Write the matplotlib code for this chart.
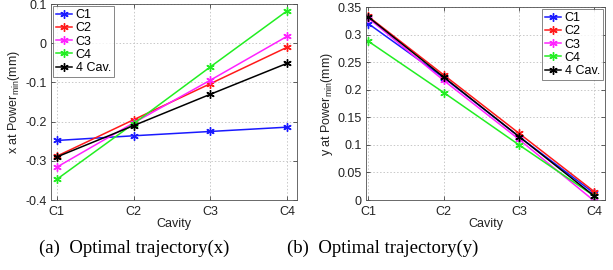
import matplotlib
matplotlib.use("Agg")
import matplotlib.pyplot as plt

cavities = ["C1", "C2", "C3", "C4"]
series_names = ["C1", "C2", "C3", "C4", "4 Cav."]
colors = ["#1a1aff", "#ff1a1a", "#ff22ff", "#22ee22", "#000000"]

x_C1 = [-0.248, -0.236, -0.225, -0.214]
x_C2 = [-0.288, -0.195, -0.103, -0.010]
x_C3 = [-0.316, -0.203, -0.094, 0.018]
x_C4 = [-0.347, -0.205, -0.060, 0.083]
x_4cav = [-0.290, -0.210, -0.130, -0.051]

y_C1 = [0.320, 0.222, 0.115, 0.012]
y_C2 = [0.333, 0.227, 0.121, 0.015]
y_C3 = [0.330, 0.217, 0.110, -0.002]
y_C4 = [0.288, 0.195, 0.100, 0.007]
y_4cav = [0.332, 0.223, 0.115, 0.007]

x_ticks = [0.1, 0, -0.1, -0.2, -0.3, -0.4]
y_ticks = [0, 0.05, 0.1, 0.15, 0.2, 0.25, 0.3, 0.35]

plt.rcParams['font.family'] = ['Liberation Sans', 'DejaVu Sans']
plt.rcParams['mathtext.fontset'] = 'custom'
plt.rcParams['mathtext.rm'] = 'Liberation Sans'
plt.rcParams['mathtext.it'] = 'Liberation Sans'

fig = plt.figure(figsize=(6.13, 2.70), dpi=100)
axL = fig.add_axes([0.0827, 0.259, 0.401, 0.726])
axR = fig.add_axes([0.597, 0.259, 0.390, 0.715])

pos = list(range(1, len(cavities) + 1))
asterisk = (6, 2, 0)

def style(ax):
    ax.grid(True, linestyle=(0, (1.5, 2)), color='#c8c8c8', linewidth=0.7)
    ax.set_axisbelow(True)
    for s in ax.spines.values():
        s.set_color('#505050')
        s.set_linewidth(0.6)
    ax.tick_params(direction='in', length=3, labelsize=9, width=0.5, top=True, right=True,
                   colors='#222222')
    ax.tick_params(axis='y', pad=3)
    ax.tick_params(axis='x', pad=4)
    ax.set_xticks(pos)
    ax.set_xticklabels(cavities)
    ax.set_xlabel('Cavity', fontsize=9, labelpad=0, color='#222222')

leg_kw = dict(fontsize=9, frameon=True, fancybox=False, edgecolor='#505050',
              handlelength=1.3, handletextpad=0.3, labelspacing=0.1, borderpad=0.25,
              borderaxespad=0.15)

for vals, c, n in zip([x_C1, x_C2, x_C3, x_C4, x_4cav], colors, series_names):
    axL.plot(pos, vals, color=c, marker=asterisk, markersize=6, linewidth=1.1, label=n)
axL.set_xlim(0.92, 4.12)
axL.set_ylim(-0.4, 0.1)
axL.set_yticks(x_ticks)
axL.set_yticklabels(['0.1', '0', '-0.1', '-0.2', '-0.3', '-0.4'])
axL.set_ylabel('x at Power$_{\\mathrm{min}}$(mm)', fontsize=9, labelpad=2, color='#222222')
style(axL)
leg = axL.legend(loc='upper left', **leg_kw)
leg.get_frame().set_linewidth(0.6)

for vals, c, n in zip([y_C1, y_C2, y_C3, y_C4, y_4cav], colors, series_names):
    axR.plot(pos, vals, color=c, marker=asterisk, markersize=6, linewidth=1.1, label=n)
axR.set_xlim(0.97, 4.14)
axR.set_ylim(0, 0.35)
axR.set_yticks(y_ticks)
axR.set_yticklabels(['0', '0.05', '0.1', '0.15', '0.2', '0.25', '0.3', '0.35'])
axR.set_ylabel('y at Power$_{\\mathrm{min}}$(mm)', fontsize=9, labelpad=2, color='#222222')
style(axR)
leg = axR.legend(loc='upper right', **leg_kw)
leg.get_frame().set_linewidth(0.6)

fig.text(134 / 613, 1 - 248 / 270, '(a)  Optimal trajectory(x)', ha='center', va='center',
         fontsize=13.5, family=['Liberation Serif', 'DejaVu Serif'])
fig.text(383 / 613, 1 - 248 / 270, '(b)  Optimal trajectory(y)', ha='center', va='center',
         fontsize=13.5, family=['Liberation Serif', 'DejaVu Serif'])

fig.savefig('out.png', dpi=100)
